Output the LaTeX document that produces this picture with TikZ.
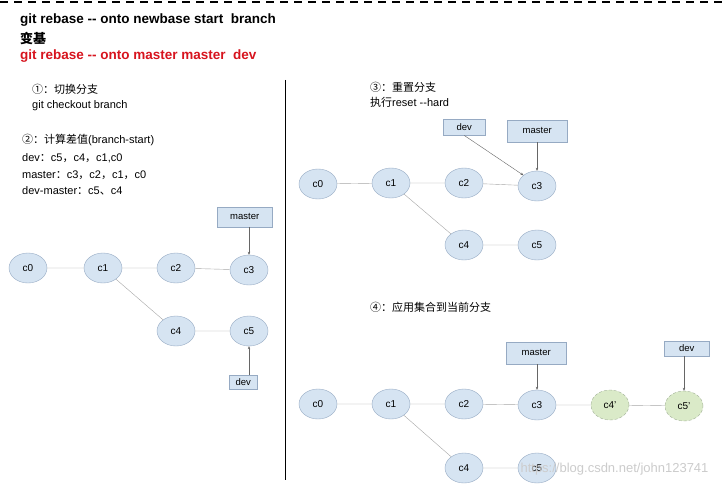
\documentclass[tikz,border=0pt]{standalone}
\usepackage{fontspec}
\setmainfont{Liberation Sans}
\newfontfamily\cjk{Noto Sans CJK SC}
\usetikzlibrary{arrows.meta, shapes.geometric}
\definecolor{nodefill}{RGB}{214,228,242}
\definecolor{nodeline}{RGB}{150,170,195}
\definecolor{newfill}{RGB}{218,234,200}
\definecolor{newline}{RGB}{160,175,150}
\definecolor{gitred}{RGB}{215,20,30}
\tikzset{
  commit/.style={ellipse, draw=nodeline, fill=nodefill, minimum width=38pt, minimum height=30pt, inner sep=0pt, font=\fontsize{10}{11}\selectfont},
  newcommit/.style={commit, draw=newline, fill=newfill, densely dashed},
  ref/.style={draw=nodeline, fill=nodefill, anchor=north west, inner sep=2pt, font=\fontsize{9.5}{10}\selectfont, text depth=1pt},
  link/.style={draw=gray!70, thin},
  pointer/.style={draw=gray!80!black, thin, -{Stealth[length=3pt, width=2.5pt]}},
  note/.style={anchor=west, inner sep=0pt, font=\fontsize{11}{13}\selectfont},
  head/.style={anchor=west, inner sep=0pt, font=\bfseries\fontsize{13.5}{15}\selectfont}
}
\begin{document}
\begin{tikzpicture}[x=1pt, y=-1pt]
  \useasboundingbox[fill=white] (0,0) rectangle (722,492);
  \draw[black, line width=1.5pt, dash pattern=on 8pt off 6pt] (0,2) -- (722,2);
  % headings
  \node[head] (t1) at (20,20) {git rebase {-}{-} onto newbase start~ branch};
  \node[head, font=\bfseries\cjk\fontsize{13}{15}\selectfont] (t2) at (20,38) {变基};
  \node[head, text=gitred] (t3) at (20,56) {git rebase {-}{-} onto master master~ dev};
  \draw[black] (285,80) -- (285,480);
  % step texts
  \node[note] (s1a) at (32,89) {{\cjk ①：切换分支}};
  \node[note] (s1b) at (32,106) {git checkout branch};
  \node[note] (s2a) at (22,140) {{\cjk ②：计算差值}(branch-start)};
  \node[note] (s2b) at (22,158) {dev{\cjk ：}c5{\cjk ，}c4{\cjk ，}c1,c0};
  \node[note] (s2c) at (22,175) {master{\cjk ：}c3{\cjk ，}c2{\cjk ，}c1{\cjk ，}c0};
  \node[note] (s2d) at (22,191) {dev-master{\cjk ：}c5{\cjk 、}c4};
  \node[note] (s3a) at (370,87) {{\cjk ③：重置分支}};
  \node[note] (s3b) at (370,102) {{\cjk 执行}reset {-}{-}hard};
  \node[note] (s4a) at (370,307) {{\cjk ④：应用集合到当前分支}};

  % left graph
  \node[commit] (la0) at (28,268) {c0};
  \node[commit] (la1) at (103,268) {c1};
  \node[commit] (la2) at (176,268) {c2};
  \node[commit] (la3) at (249,270) {c3};
  \node[commit] (la4) at (176,331) {c4};
  \node[commit] (la5) at (249,331) {c5};
  \draw[link] (la0) -- (la1) -- (la2) -- (la3);
  \draw[link] (la1) -- (la4) -- (la5);
  \node[ref, minimum width=55pt, minimum height=20pt] (lmaster) at (217,207) {master};
  \node[ref, minimum width=28pt, minimum height=14pt] (ldev) at (229,375) {dev};
  \draw[pointer] (lmaster.south -| la3) -- (la3.north);
  \draw[pointer] (ldev.north -| la5) -- (la5.south);

  % top right graph
  \node[commit] (ra0) at (318,184) {c0};
  \node[commit] (ra1) at (391,183) {c1};
  \node[commit] (ra2) at (464,183) {c2};
  \node[commit] (ra3) at (537,186) {c3};
  \node[commit] (ra4) at (464,245) {c4};
  \node[commit] (ra5) at (537,245) {c5};
  \draw[link] (ra0) -- (ra1) -- (ra2) -- (ra3);
  \draw[link] (ra1) -- (ra4) -- (ra5);
  \node[ref, minimum width=42pt, minimum height=16pt] (rdev) at (443,119) {dev};
  \node[ref, minimum width=60pt, minimum height=22pt] (rmaster) at (507,120) {master};
  \draw[pointer] (rdev.south) -- (ra3.north west);
  \draw[pointer] (rmaster.south -| ra3) -- (ra3.north);

  % bottom right graph
  \node[commit] (rb0) at (318,404) {c0};
  \node[commit] (rb1) at (391,404) {c1};
  \node[commit] (rb2) at (464,404) {c2};
  \node[commit] (rb3) at (537,405) {c3};
  \node[newcommit] (rb4n) at (610,405) {c4'};
  \node[newcommit] (rb5n) at (684,406) {c5'};
  \node[commit] (rb4) at (464,468) {c4};
  \node[commit] (rb5) at (537,468) {c5};
  \draw[link] (rb0) -- (rb1) -- (rb2) -- (rb3) -- (rb4n) -- (rb5n);
  \draw[link] (rb1) -- (rb4) -- (rb5);
  \node[ref, minimum width=60pt, minimum height=22pt] (bmaster) at (506,342) {master};
  \node[ref, minimum width=45pt, minimum height=15pt] (bdev) at (664,341) {dev};
  \draw[pointer] (bmaster.south -| rb3) -- (rb3.north);
  \draw[pointer] (bdev.south -| rb5n) -- (rb5n.north);

  \node[anchor=east, text=gray!40, font=\fontsize{13}{14}\selectfont] (mark) at (712,469) {https://blog.csdn.net/john123741};
\end{tikzpicture}
\end{document}
